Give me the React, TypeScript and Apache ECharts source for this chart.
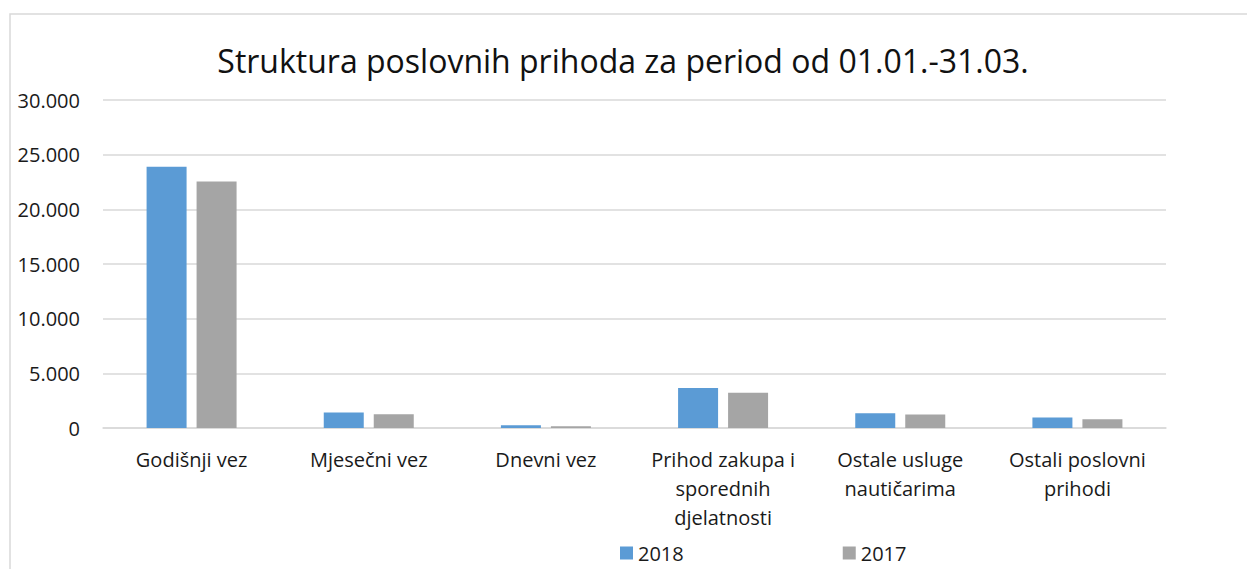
import React, { useEffect, useRef } from "react";
import * as echarts from "echarts";

const titleText = "Struktura poslovnih prihoda za period od 01.01.-31.03.";
const categoryLabels = [
  "Godišnji vez",
  "Mjesečni vez",
  "Dnevni vez",
  "Prihod zakupa i\nsporednih\ndjelatnosti",
  "Ostale usluge\nnautičarima",
  "Ostali poslovni\nprihodi",
];
const seriesNames = ["2018", "2017"];
const values2018 = [23900, 1420, 250, 3650, 1350, 950];
const values2017 = [22550, 1260, 155, 3220, 1225, 800];
const yMin = 0;
const yMax = 30000;
const yInterval = 5000;

const FONT = "'Open Sans', 'Noto Sans', sans-serif";

function fmt(v: number): string {
  return String(Math.round(v)).replace(/\B(?=(\d{3})+(?!\d))/g, ".");
}

export default function App() {
  const ref = useRef<HTMLDivElement>(null);
  useEffect(() => {
    document.body.style.margin = "0";
    if (!ref.current) return;
    const chart = echarts.init(ref.current, null, { renderer: "svg" });
    chart.setOption({
      animation: false,
      backgroundColor: "#ffffff",
      textStyle: { fontFamily: FONT },
      graphic: [
        {
          type: "rect",
          shape: { x: 10, y: 14, width: 1400, height: 700 },
          style: { fill: "none", stroke: "#d9d9d9", lineWidth: 1.5 },
          silent: true,
        },
        {
          type: "text",
          x: 623,
          y: 60,
          style: {
            text: titleText,
            fontFamily: FONT,
            fontSize: 32,
            fill: "#111111",
            align: "center",
            verticalAlign: "middle",
          },
        },
      ],
      legend: {
        data: seriesNames,
        left: 620,
        top: 543,
        padding: 0,
        itemWidth: 13,
        itemHeight: 13,
        itemGap: 159,
        icon: "rect",
        textStyle: { fontFamily: FONT, fontSize: 20, color: "#1a1a1a", lineHeight: 20 },
      },
      grid: { left: 103, right: 81, top: 100, bottom: 141, containLabel: false },
      xAxis: {
        type: "category",
        data: categoryLabels,
        axisLine: { show: true, lineStyle: { color: "#d9d9d9", width: 1.5 } },
        axisTick: { show: false },
        axisLabel: {
          interval: 0,
          margin: 17,
          fontFamily: FONT,
          fontSize: 20,
          lineHeight: 29,
          color: "#1a1a1a",
          align: "center",
        },
      },
      yAxis: {
        type: "value",
        min: yMin,
        max: yMax,
        interval: yInterval,
        axisLine: { show: false },
        axisTick: { show: false },
        splitLine: { lineStyle: { color: "#d9d9d9", width: 1.5 } },
        axisLabel: {
          margin: 23,
          fontFamily: FONT,
          fontSize: 20,
          color: "#1a1a1a",
          formatter: (v: number) => fmt(v),
        },
      },
      series: [
        {
          name: seriesNames[0],
          type: "bar",
          data: values2018,
          barWidth: 40,
          barGap: "25%",
          itemStyle: { color: "#5b9bd5" },
        },
        {
          name: seriesNames[1],
          type: "bar",
          data: values2017,
          barWidth: 40,
          barGap: "25%",
          itemStyle: { color: "#a5a5a5" },
        },
      ],
    });
    return () => chart.dispose();
  }, []);
  return <div ref={ref} style={{ width: 1247, height: 569 }} />;
}
